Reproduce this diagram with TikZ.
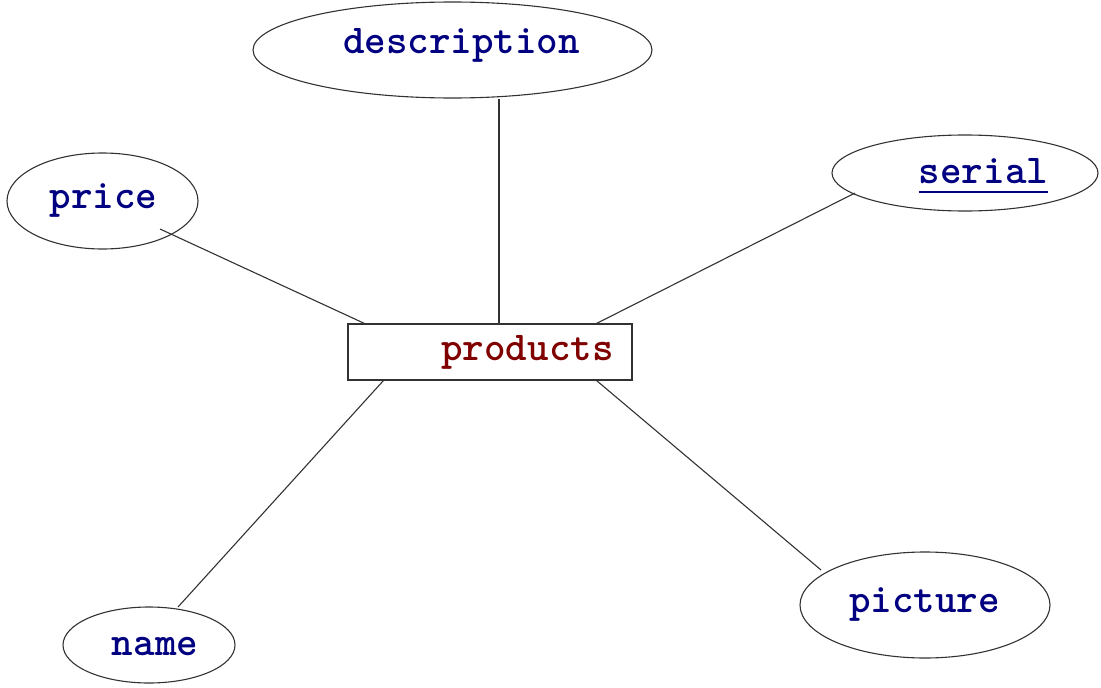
\documentclass[tikz,border=0pt]{standalone}
\usepackage{fontspec}
\usetikzlibrary{shapes.geometric,calc}
\definecolor{attrblue}{RGB}{0,0,128}
\definecolor{entred}{RGB}{128,0,0}
\definecolor{edgegray}{RGB}{50,50,50}
\tikzset{
  attr/.style={ellipse, draw=edgegray, line width=1.1pt, inner sep=0pt},
  ent/.style={rectangle, draw=edgegray, line width=1.1pt, inner sep=0pt, minimum width=284pt, minimum height=56pt},
  lbl/.style={inner sep=0pt, anchor=base, font=\fontsize{41}{45}\selectfont\ttfamily\bfseries},
  conn/.style={draw=edgegray, line width=1.1pt}
}
\begin{document}
\begin{tikzpicture}[x=1pt,y=-1pt]
\useasboundingbox (0,0) rectangle (1101,688);
% shapes
\node[attr, minimum width=399pt, minimum height=96pt] (description) at (452.5,50) {};
\node[attr, minimum width=191pt, minimum height=96pt] (price) at (102.5,201) {};
\node[attr, minimum width=266pt, minimum height=76pt] (serial) at (965,173) {};
\node[ent] (products) at (490,352) {};
\node[attr, minimum width=172pt, minimum height=76pt] (name) at (149,645) {};
\node[attr, minimum width=250pt, minimum height=106pt] (picture) at (925,605) {};
% labels
\node[lbl, text=attrblue] (description-t) at (461.5,53) {description};
\node[lbl, text=attrblue] (price-t) at (103.5,208) {price};
\node[lbl, text=attrblue] (serial-t) at (983.5,183) {serial};
\node[lbl, text=entred] (products-t) at (527.5,360) {products};
\node[lbl, text=attrblue] (name-t) at (155,655) {name};
\node[lbl, text=attrblue] (picture-t) at (924.5,612) {picture};
\draw[attrblue, line width=2.6pt] ([yshift=-9pt]serial-t.base west) -- ([yshift=-9pt]serial-t.base east);
% connectors
\draw[conn] ([xshift=46.5pt]description.south) -- ([xshift=9pt]products.north);
\draw[conn] ([shift={(57.5,28)}]price.center) -- ([xshift=17pt]products.north west);
\draw[conn] ([shift={(-110,20)}]serial.center) -- ([xshift=-36pt]products.north east);
\draw[conn] ([shift={(29,-38)}]name.center) -- ([xshift=36pt]products.south west);
\draw[conn] ([shift={(-104,-35)}]picture.center) -- ([xshift=-36pt]products.south east);
\end{tikzpicture}
\end{document}
